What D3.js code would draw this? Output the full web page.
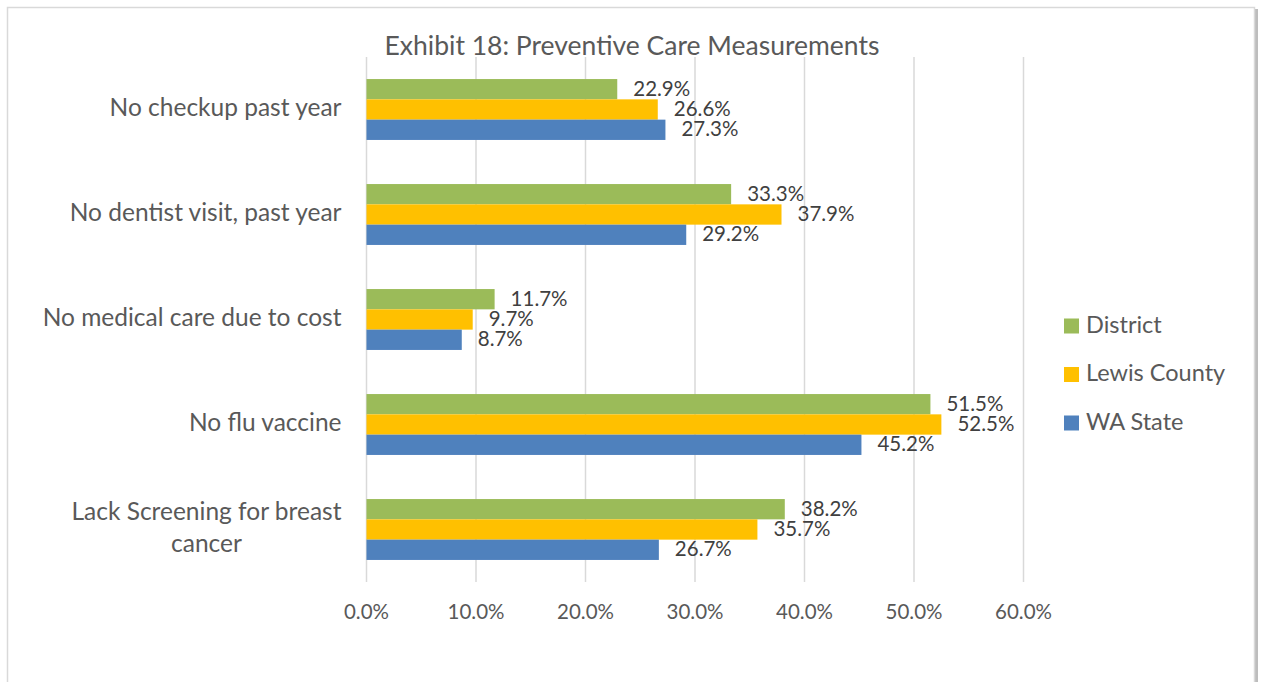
<!DOCTYPE html>
<html>
<head>
<meta charset="utf-8">
<script src="https://cdn.jsdelivr.net/npm/d3@7"></script>
<style>
  body { margin: 0; background: #fff; }
  svg { display: block; font-family: Lato, "Open Sans", sans-serif; }
</style>
</head>
<body>
<svg id="svg"></svg>
<script>
// chart data
const categories = [
  "No checkup past year",
  "No dentist visit, past year",
  "No medical care due to cost",
  "No flu vaccine",
  "Lack Screening for breast cancer"
];
const seriesNames = ["District", "Lewis County", "WA State"];
const district = [22.9, 33.3, 11.7, 51.5, 38.2];
const lewisCounty = [26.6, 37.9, 9.7, 52.5, 35.7];
const waState = [27.3, 29.2, 8.7, 45.2, 26.7];
const xTicks = [0, 10, 20, 30, 40, 50, 60];

const colors = ["#9BBB59", "#FFC000", "#4F81BD"];
const seriesValues = [district, lewisCounty, waState];

const width = 1261, height = 682;
const svg = d3.select("#svg").attr("width", width).attr("height", height);

// chart frame with a little shadow on the right
svg.append("rect")
  .attr("x", 1254).attr("y", 9).attr("width", 4).attr("height", height)
  .attr("fill", "#bdbdbd");
svg.append("rect")
  .attr("x", 7.5).attr("y", 7.5).attr("width", 1247).attr("height", height + 10)
  .attr("fill", "#fff").attr("stroke", "#d9d9d9").attr("stroke-width", 1.5);

const plot = { left: 366.5, right: 1023.5, top: 57, bottom: 582 };

const x = d3.scaleLinear().domain([0, 60]).range([plot.left, plot.right]);
const y = d3.scaleBand().domain(categories).range([plot.top, plot.bottom])
  .paddingInner(0.42).paddingOuter(0.21);
const ySub = d3.scaleBand().domain(seriesNames).range([0, y.bandwidth()]);

// title
svg.append("text")
  .attr("x", 632).attr("y", 55)
  .attr("text-anchor", "middle")
  .attr("font-size", 26.5)
  .attr("fill", "#595959")
  .text("Exhibit 18: Preventive Care Measurements");

// vertical gridlines
svg.append("g").selectAll("line")
  .data(xTicks)
  .enter().append("line")
  .attr("x1", d => x(d)).attr("x2", d => x(d))
  .attr("y1", plot.top).attr("y2", plot.bottom)
  .attr("stroke", "#d9d9d9").attr("stroke-width", 1.5);

// x tick labels
svg.append("g").selectAll("text")
  .data(xTicks)
  .enter().append("text")
  .attr("x", d => x(d)).attr("y", 619)
  .attr("text-anchor", "middle")
  .attr("font-size", 20.5)
  .attr("fill", "#595959")
  .text(d => d3.format(".1f")(d) + "%");

// bars
const rows = categories.map((c, i) => ({
  category: c,
  values: seriesNames.map((s, j) => ({ series: s, value: seriesValues[j][i], color: colors[j] }))
}));

const groups = svg.append("g").selectAll("g")
  .data(rows)
  .enter().append("g")
  .attr("transform", d => `translate(0, ${y(d.category)})`);

groups.selectAll("rect")
  .data(d => d.values)
  .enter().append("rect")
  .attr("x", x(0))
  .attr("y", d => ySub(d.series))
  .attr("width", d => x(d.value) - x(0))
  .attr("height", ySub.bandwidth())
  .attr("fill", d => d.color);

// value labels
groups.selectAll("text")
  .data(d => d.values)
  .enter().append("text")
  .attr("x", d => x(d.value) + 16)
  .attr("y", d => ySub(d.series) + ySub.bandwidth() / 2 + 1.5)
  .attr("dominant-baseline", "middle")
  .attr("font-size", 20.5)
  .attr("fill", "#404040")
  .text(d => d.value.toFixed(1) + "%");

// category labels, wrapped and centred line by line like Excel does
const labelRight = plot.left - 25;
const lineHeight = 32;
const catSize = 24.5;
categories.forEach(c => {
  const g = svg.append("g");
  const words = c.split(" ");
  const lines = [];
  let line = [];
  const probe = g.append("text").attr("font-size", catSize);
  words.forEach(w => {
    line.push(w);
    probe.text(line.join(" "));
    if (probe.node().getComputedTextLength() > 320 && line.length > 1) {
      line.pop();
      lines.push(line.join(" "));
      line = [w];
    }
  });
  lines.push(line.join(" "));
  probe.remove();

  const widths = lines.map(l => {
    const t = g.append("text").attr("font-size", catSize).text(l);
    const w = t.node().getComputedTextLength();
    t.remove();
    return w;
  });
  const blockW = d3.max(widths);
  const cy = y(c) + y.bandwidth() / 2;
  lines.forEach((l, i) => {
    g.append("text")
      .attr("x", labelRight - blockW / 2)
      .attr("y", cy + (i - (lines.length - 1) / 2) * lineHeight)
      .attr("dominant-baseline", "middle")
      .attr("text-anchor", "middle")
      .attr("font-size", catSize)
      .attr("fill", "#595959")
      .text(l);
  });
});

// legend
const legend = svg.append("g").attr("transform", "translate(1064, 326)");
seriesNames.forEach((s, i) => {
  const row = legend.append("g").attr("transform", `translate(0, ${i * 48.5})`);
  row.append("rect")
    .attr("x", 0).attr("y", -7.5)
    .attr("width", 15).attr("height", 15)
    .attr("fill", colors[i]);
  row.append("text")
    .attr("x", 22).attr("y", 1)
    .attr("dominant-baseline", "middle")
    .attr("font-size", 23.5)
    .attr("fill", "#595959")
    .text(s);
});
</script>
</body>
</html>
